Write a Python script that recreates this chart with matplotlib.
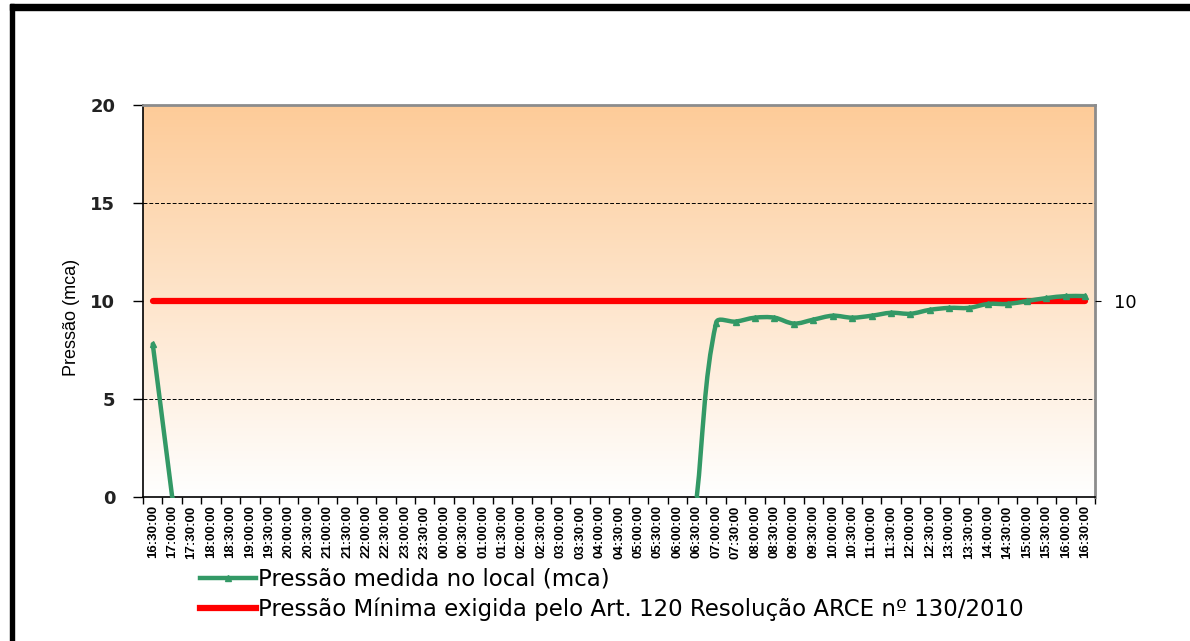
import numpy as np
import matplotlib
matplotlib.use("Agg")
from matplotlib import pyplot as plt
from matplotlib.patches import Rectangle, PathPatch
from matplotlib.path import Path
from matplotlib.lines import Line2D
from matplotlib.colors import LinearSegmentedColormap

# horarios de 30 em 30 min, 16:30 ate 16:30 do dia seguinte
horas = []
for k in range(49):
    m = (16 * 60 + 30 + 30 * k) % (24 * 60)
    horas.append("%02d:%02d:00" % (m // 60, m % 60))

pressao = [7.8, 0.0] + [np.nan] * 26 + [
    0.0, 8.9, 8.95, 9.15, 9.15, 8.85, 9.05, 9.25, 9.15, 9.25, 9.4,
    9.35, 9.55, 9.65, 9.65, 9.85, 9.85, 10.0, 10.15, 10.25, 10.25]
pressao_min = [10] * 49

lbl_med = "Pressão medida no local (mca)"
lbl_min = "Pressão Mínima exigida pelo Art. 120 Resolução ARCE nº 130/2010"

verde = "#339966"
vermelho = "#FF0000"
arial = ["Liberation Sans", "DejaVu Sans"]


def linha_suave(xs, ys):
    # curva tipo "linha suavizada" do Excel (bezier pelos pontos)
    verts, codes = [], []
    ok = ~np.isnan(ys)
    i = 0
    n = len(xs)
    while i < n:
        if not ok[i]:
            i += 1
            continue
        j = i
        while j + 1 < n and ok[j + 1]:
            j += 1
        p = np.column_stack([xs[i:j + 1], ys[i:j + 1]])
        m = len(p)
        tang = []
        for k in range(m):
            d = p[min(k + 1, m - 1)] - p[max(k - 1, 0)]
            tang.append(d / np.hypot(*d))
        verts.append(p[0]); codes.append(Path.MOVETO)
        for k in range(m - 1):
            L = np.hypot(*(p[k + 1] - p[k])) / 3
            verts += [p[k] + tang[k] * L, p[k + 1] - tang[k + 1] * L, p[k + 1]]
            codes += [Path.CURVE4] * 3
        i = j + 1
    return Path(verts, codes)


fig = plt.figure(figsize=(11.9, 6.41), dpi=100)
ax = fig.add_axes([0.1202, 0.2246, 0.8, 0.6116])

x = np.arange(len(horas))

# fundo em degrade (pessego -> branco)
cmap = LinearSegmentedColormap.from_list("fundo", ["#FFFFFF", "#FDCB98"])
grad = np.linspace(0, 1, 256).reshape(-1, 1)
ax.imshow(grad, cmap=cmap, aspect="auto", origin="lower",
          extent=[-0.5, 48.5, 0, 20], zorder=0)

for g in [5, 15]:
    ax.axhline(g, color="black", lw=0.7, ls=(0, (4, 2)), zorder=1)

ax.plot(x, pressao_min, color=vermelho, lw=4.5, zorder=2,
        solid_capstyle="round")
ax.add_patch(PathPatch(linha_suave(x.astype(float), np.array(pressao)),
                       fill=False, edgecolor=verde, lw=3.2, zorder=3,
                       capstyle="round", joinstyle="round"))
ax.plot(x, pressao, ls="none", color=verde, marker="^", ms=4.5, zorder=4)

ax.set_xlim(-0.5, 48.5)
ax.set_ylim(0, 20)
ax.set_yticks([0, 5, 10, 15, 20])
ax.set_yticklabels(["0", "5", "10", "15", "20"], fontsize=13,
                   fontweight="bold", family="DejaVu Sans", color="#222222")
ax.tick_params(axis="y", length=7, width=1, pad=13)

ax.set_xticks(x)
ax.set_xticklabels(horas, rotation=90, fontsize=9.5, fontweight="bold",
                   family=arial)
ax.set_xticks(np.arange(-0.5, 49, 1), minor=True)
ax.tick_params(axis="x", which="major", length=0, pad=6)
ax.tick_params(axis="x", which="minor", length=5, width=1)

ax.set_ylabel("Pressão (mca)", fontsize=13, family=arial)
ax.yaxis.set_label_coords(-0.066, 0.457)

for s in ["left", "bottom"]:
    ax.spines[s].set_color("black")
    ax.spines[s].set_linewidth(1.2)
for s in ["top", "right"]:
    ax.spines[s].set_color("#8c8c8c")
    ax.spines[s].set_linewidth(2)

# eixo secundario com o valor de referencia
ax2 = ax.twinx()
ax2.set_ylim(0, 20)
ax2.set_yticks([10])
ax2.set_yticklabels(["10"], fontsize=13, family="DejaVu Sans")
ax2.tick_params(axis="y", length=4, pad=10)
for s in ax2.spines.values():
    s.set_visible(False)

h = [Line2D([], [], color=verde, lw=3.2, marker="^", ms=4.5),
     Line2D([], [], color=vermelho, lw=4.5)]
fig.legend(h, [lbl_med, lbl_min], loc="upper left",
           bbox_to_anchor=(0.168, 0.1139), frameon=False, fontsize=16.5,
           handlelength=2.45, handletextpad=0.1, labelspacing=0.3,
           borderaxespad=0, borderpad=0)

# moldura preta (topo e esquerda)
fig.patches.append(Rectangle((10 / 1190, 0), 4 / 1190, 1 - 4 / 641,
                             transform=fig.transFigure, color="black"))
fig.patches.append(Rectangle((10 / 1190, 1 - 10 / 641), 1, 6 / 641,
                             transform=fig.transFigure, color="black"))

fig.savefig("out.png", dpi=100)
